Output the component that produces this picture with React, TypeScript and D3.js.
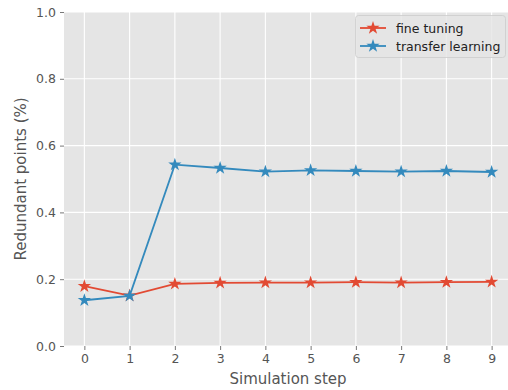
import { useEffect, useRef } from 'react';
import * as d3 from 'd3';

const steps = [0, 1, 2, 3, 4, 5, 6, 7, 8, 9];
const fineTuning = [0.179, 0.151, 0.186, 0.189, 0.190, 0.190, 0.191, 0.190, 0.191, 0.192];
const transferLearning = [0.137, 0.150, 0.543, 0.533, 0.522, 0.526, 0.524, 0.522, 0.524, 0.521];
const yTicks = [0, 0.2, 0.4, 0.6, 0.8, 1.0];
const seriesNames = ['fine tuning', 'transfer learning'];
const seriesColors = ['#E24A33', '#348ABD'];

function App() {
  const ref = useRef<SVGSVGElement>(null);

  useEffect(() => {
    drawChart();
    // eslint-disable-next-line
  }, []);

  function drawChart() {
    const config = { width: 508, height: 390, left: 64, right: 512, top: 12, bottom: 346 };
    const svg = d3.select(ref.current);
    svg.selectAll('*').remove();

    const xScale = d3.scaleLinear().domain([-0.45, 9.45]).range([config.left, config.right]);
    const yScale = d3.scaleLinear().domain([0, 1]).range([config.bottom, config.top]);

    svg.append('rect')
      .attr('x', config.left).attr('y', config.top)
      .attr('width', config.right - config.left).attr('height', config.bottom - config.top)
      .attr('fill', '#E5E5E5');

    // grid
    const grid = svg.append('g');
    steps.forEach(s => {
      grid.append('line')
        .attr('x1', xScale(s)).attr('x2', xScale(s))
        .attr('y1', config.top).attr('y2', config.bottom)
        .attr('stroke', '#fff').attr('stroke-width', 1.1);
    });
    yTicks.forEach(t => {
      grid.append('line')
        .attr('x1', config.left).attr('x2', config.right)
        .attr('y1', yScale(t)).attr('y2', yScale(t))
        .attr('stroke', '#fff').attr('stroke-width', 1.1);
    });

    // axes
    const xAxis = d3.axisBottom(xScale).tickValues(steps).tickSize(4).tickPadding(4).tickFormat(d => String(d));
    const gx = svg.append('g')
      .attr('transform', `translate(0, ${config.bottom})`)
      .call(xAxis);
    const yAxis = d3.axisLeft(yScale).tickValues(yTicks).tickSize(4).tickPadding(4).tickFormat(d3.format('.1f'));
    const gy = svg.append('g')
      .attr('transform', `translate(${config.left}, 0)`)
      .call(yAxis);
    [gx, gy].forEach(g => {
      g.select('.domain').remove();
      g.selectAll('.tick line').attr('stroke', '#555').attr('stroke-width', 0.8);
      g.selectAll('.tick text')
        .attr('fill', '#555')
        .style('font-family', 'DejaVu Sans')
        .style('font-size', '12.5px');
    });

    svg.append('text')
      .attr('x', 288).attr('y', 384)
      .attr('text-anchor', 'middle')
      .attr('fill', '#555')
      .style('font-family', 'DejaVu Sans')
      .style('font-size', '15px')
      .text('Simulation step');

    svg.append('text')
      .attr('transform', `translate(26, ${(config.top + config.bottom) / 2}) rotate(-90)`)
      .attr('text-anchor', 'middle')
      .attr('fill', '#555')
      .style('font-family', 'DejaVu Sans')
      .style('font-size', '15px')
      .text('Redundant points (%)');

    const line = d3.line<number>()
      .x((_, i) => xScale(steps[i]))
      .y(d => yScale(d));
    const star = d3.symbol().type(d3.symbolStar).size(55);

    [fineTuning, transferLearning].forEach((values, k) => {
      svg.append('path')
        .datum(values)
        .attr('d', line)
        .attr('fill', 'none')
        .attr('stroke', seriesColors[k])
        .attr('stroke-width', 1.8);
      svg.append('g').selectAll('path')
        .data(values)
        .join('path')
        .attr('d', star)
        .attr('transform', (d, i) => `translate(${xScale(steps[i])}, ${yScale(d)})`)
        .attr('fill', seriesColors[k]);
    });

    // legend
    const legend = svg.append('g');
    legend.append('rect')
      .attr('x', 355.5).attr('y', 15.5).attr('width', 150).attr('height', 42).attr('rx', 3)
      .attr('fill', '#E5E5E5').attr('fill-opacity', 0.8)
      .attr('stroke', '#CCCCCC').attr('stroke-width', 0.8);
    seriesNames.forEach((name, k) => {
      const y = 28 + k * 18;
      legend.append('line')
        .attr('x1', 360).attr('x2', 386).attr('y1', y).attr('y2', y)
        .attr('stroke', seriesColors[k]).attr('stroke-width', 1.8);
      legend.append('path')
        .attr('d', star)
        .attr('transform', `translate(373, ${y})`)
        .attr('fill', seriesColors[k]);
      legend.append('text')
        .attr('x', 396).attr('y', y + 4.5)
        .attr('fill', '#222')
        .style('font-family', 'DejaVu Sans')
        .style('font-size', '12.5px')
        .text(name);
    });
  }

  return (
    <svg ref={ref} width={508} height={390}
      style={{ position: 'absolute', left: 0, top: 0, display: 'block', background: '#fff' }} />
  );
}

export default App;
